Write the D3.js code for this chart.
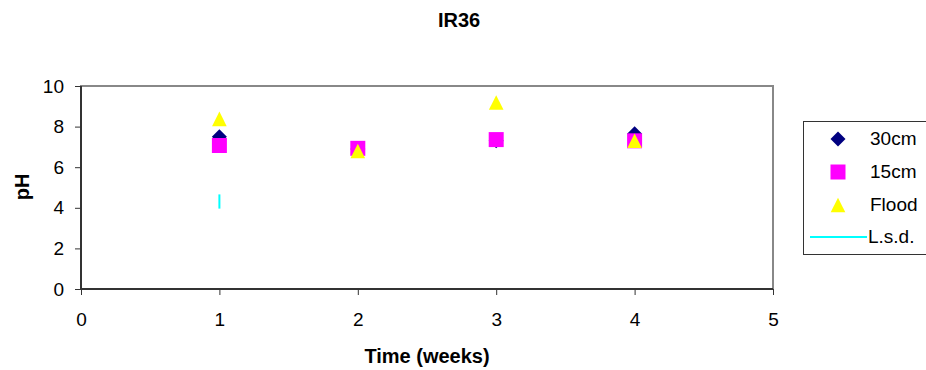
<!DOCTYPE html>
<html><head><meta charset="utf-8">
<script src="https://cdn.jsdelivr.net/npm/d3@7"></script>
<style>body{margin:0;background:#fff;} svg{display:block;font-family:"Liberation Sans",Arial,sans-serif;}</style>
</head><body><svg id="c" width="926" height="370"></svg>
<script>
const weeks = [1, 2, 3, 4];
const cm30 = [7.5, 6.9, 7.3, 7.65];
const cm15 = [7.07, 6.93, 7.36, 7.3];
const flood = [8.38, 6.8, 9.19, 7.3];
const lsdWeek = [1];
const lsdLow = [3.96];
const lsdHigh = [4.66];
const xTicks = [0, 1, 2, 3, 4, 5];
const yTicks = [0, 2, 4, 6, 8, 10];
const seriesNames = ["30cm", "15cm", "Flood", "L.s.d."];

const svg = d3.select("#c");
const L = 81, R = 773, T = 86, B = 289;
const x = d3.scaleLinear().domain([0, 5]).range([L, R]);
const y = d3.scaleLinear().domain([0, 10]).range([B, T]);

// plot border (top/right grey)
svg.append("rect").attr("x", L).attr("y", T).attr("width", R - L).attr("height", B - T)
  .attr("fill", "#fff").attr("stroke", "#888").attr("stroke-width", 2);

const xAxis = svg.append("g").attr("transform", `translate(0,${B})`)
  .call(d3.axisBottom(x).tickValues(xTicks).tickSize(6).tickPadding(18).tickFormat(d3.format("d")));
const yAxis = svg.append("g").attr("transform", `translate(${L},0)`)
  .call(d3.axisLeft(y).tickValues(yTicks).tickSize(6).tickPadding(11).tickFormat(d3.format("d")));
[xAxis, yAxis].forEach(g => {
  g.select(".domain").attr("stroke", "#333").attr("stroke-width", 2);
  g.selectAll(".tick line").attr("stroke", "#333");
  g.selectAll("text").attr("font-size", 19).attr("fill", "#000").attr("font-family", '"Liberation Sans",Arial,sans-serif');
});
xAxis.select(".domain").attr("d", `M${L},0H${R}`);
yAxis.select(".domain").attr("d", `M0,${B}V${T}`);

const diamond = (cx, cy, r) => `M${cx},${cy - r}L${cx + r},${cy}L${cx},${cy + r}L${cx - r},${cy}Z`;
const square = (cx, cy, r) => `M${cx - r},${cy - r}h${2 * r}v${2 * r}h${-2 * r}Z`;
const tri = (cx, cy, r) => `M${cx},${cy - r}L${cx + r},${cy + r}L${cx - r},${cy + r}Z`;

// LSD
svg.selectAll(".lsd").data(lsdWeek).enter().append("line")
  .attr("x1", d => x(d)).attr("x2", d => x(d))
  .attr("y1", (d, i) => y(lsdLow[i])).attr("y2", (d, i) => y(lsdHigh[i]))
  .attr("stroke", "#00FFFF").attr("stroke-width", 2);

svg.selectAll(".d30").data(weeks).enter().append("path")
  .attr("d", (d, i) => diamond(x(d), y(cm30[i]), 7.5)).attr("fill", "#000080");
svg.selectAll(".s15").data(weeks).enter().append("path")
  .attr("d", (d, i) => square(x(d), y(cm15[i]), 7.5)).attr("fill", "#FF00FF");
svg.selectAll(".fl").data(weeks).enter().append("path")
  .attr("d", (d, i) => tri(x(d), y(flood[i]), 7.3)).attr("fill", "#FFFF00");

// Title & axis titles
svg.append("text").attr("x", 459).attr("y", 27).attr("text-anchor", "middle")
  .attr("font-weight", "bold").attr("font-size", 20).text("IR36");
svg.append("text").attr("x", 427).attr("y", 363).attr("text-anchor", "middle")
  .attr("font-weight", "bold").attr("font-size", 20).text("Time (weeks)");
svg.append("text").attr("transform", "translate(29,187) rotate(-90)").attr("text-anchor", "middle")
  .attr("font-weight", "bold").attr("font-size", 20).text("pH");

// Legend
const lg = svg.append("g");
lg.append("rect").attr("x", 803.5).attr("y", 121.5).attr("width", 130).attr("height", 133)
  .attr("fill", "#fff").attr("stroke", "#333").attr("stroke-width", 1);
const ly = [139, 172, 205, 237];
lg.append("path").attr("d", diamond(838, ly[0], 7.5)).attr("fill", "#000080");
lg.append("path").attr("d", square(838, ly[1], 7.5)).attr("fill", "#FF00FF");
lg.append("path").attr("d", tri(838, ly[2], 7.3)).attr("fill", "#FFFF00");
lg.append("line").attr("x1", 810).attr("x2", 867).attr("y1", ly[3]).attr("y2", ly[3])
  .attr("stroke", "#00FFFF").attr("stroke-width", 2);
lg.selectAll(".lt").data(seriesNames).enter().append("text")
  .attr("x", (d, i) => i === 3 ? 868 : 870).attr("y", (d, i) => ly[i] + 6)
  .attr("font-size", 19).text(d => d);
</script></body></html>
